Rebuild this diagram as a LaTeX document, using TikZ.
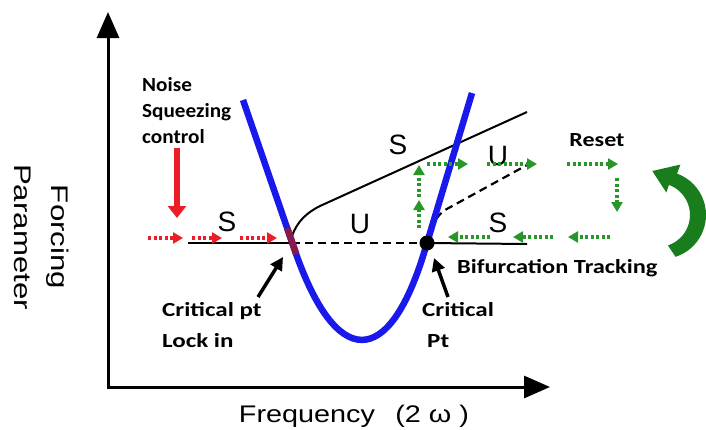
\documentclass[tikz,border=0pt]{standalone}
\usepackage{fontspec}
\setmainfont{Liberation Sans}
\newfontfamily\calibri{Carlito}
\usetikzlibrary{arrows.meta}
\definecolor{curveblue}{RGB}{25,25,235}
\definecolor{lockmaroon}{RGB}{135,25,75}
\definecolor{dotgreen}{RGB}{40,150,40}
\definecolor{arcgreen}{RGB}{25,125,30}
\definecolor{dotred}{RGB}{235,30,40}
\newcommand\wx[2]{\scalebox{#1}[1]{#2}}
\begin{document}
\begin{tikzpicture}[x=1pt,y=-1pt,
  boldlab/.style={font=\calibri\bfseries\fontsize{20}{26}\selectfont, inner sep=0pt},
  branchlab/.style={font=\fontsize{28}{30}\selectfont, inner sep=0pt},
  axislab/.style={font=\fontsize{24}{29}\selectfont, inner sep=0pt},
  greenarrow/.style={draw=dotgreen, line width=3.5pt, dash pattern=on 3pt off 2.5pt, -{Triangle[length=10pt,width=11pt]}},
  redarrow/.style={draw=dotred, line width=3.5pt, dash pattern=on 3pt off 2.5pt, -{Triangle[length=10pt,width=11pt]}},
  pointer/.style={draw=black, line width=3.5pt, -{Triangle[length=13pt,width=13pt]}},
  branch/.style={draw=black, line width=2pt},
  unstable/.style={draw=black, line width=2.2pt, dash pattern=on 8pt off 5pt},
]
\useasboundingbox (0,0) rectangle (706,429);

% axes
\coordinate (ytip) at (108,12);
\coordinate (origin) at (108,387);
\coordinate (xtip) at (550,387);
\draw[line width=3pt, line join=miter, {Triangle[length=26pt,width=22pt]}-{Triangle[length=26pt,width=22pt]}] (ytip) -- (origin) -- (xtip);

\node[axislab, anchor=base] (freq) at (354,422) {\wx{1.2}{Frequency\hspace{17pt}(2 ω )}};
\node[axislab, rotate=-90, align=center] (forcing) at (42,237) {\wx{1.3}{Forcing}\\[8pt]\wx{1.3}{Parameter}};

% branches
\coordinate (lock) at (292,243);
\coordinate (crit) at (427,243);
\coordinate (leftend) at (188,243);
\coordinate (rightend) at (527,244);
\coordinate (upperend) at (527,112);
\coordinate (lowerend) at (527,165);
\draw[branch] (leftend) -- (lock);
\draw[unstable] (lock) -- (crit);
\draw[branch] (crit) -- (rightend);
\draw[branch] (292,236) .. controls (297,222) and (306,213) .. (320,206) -- (upperend);
\draw[unstable] (crit) .. controls (430,228) and (436,216) .. (445,210) -- (lowerend);

% blue resonance curve
\coordinate (bl) at (243,100);
\coordinate (br) at (472,93);
\draw[curveblue, line width=6.5pt] (bl) -- (294.7,250) .. controls (335.8,369) and (388.7,370.7) .. (424.9,250) -- (br);
\draw[lockmaroon, line width=6.6pt] (287.2,228) -- (296.2,254);
\fill[black] (crit) circle (7.5);

% labels S / U
\node[branchlab] (s1) at (227,222) {S};
\node[branchlab] (u1) at (360,224) {U};
\node[branchlab] (s2) at (398,145) {S};
\node[branchlab] (u2) at (498,156) {U};
\node[branchlab] (s3) at (498,223) {S};

% noise squeezing
\node[boldlab, anchor=north west] (noise) at (142,73) {\wx{1.06}{\begin{tabular}{@{}l@{}}Noise\\Squeezing\\control\end{tabular}}};
\coordinate (rs) at (177,148);
\coordinate (re) at (177,218);
\draw[dotred, line width=6.5pt, -{Triangle[length=12pt,width=18pt]}] (rs) -- (re);
\draw[redarrow] (148,238) -- (183,238);
\draw[redarrow] (192,238) -- (222,238);
\draw[redarrow] (240,238) -- (277,238);

% green tracking arrows
\draw[greenarrow] (419,228) -- (419,200);
\draw[greenarrow] (419,197) -- (419,165);
\draw[greenarrow] (427,164) -- (468,164);
\draw[greenarrow] (487,164) -- (537,164);
\draw[greenarrow] (567,164) -- (618,164);
\draw[greenarrow] (617,178) -- (617,212);
\draw[greenarrow] (610,237) -- (568,237);
\draw[greenarrow] (553,237) -- (513,237);
\draw[greenarrow] (490,237) -- (448,237);

\node[boldlab] (reset) at (597,140) {\wx{1.2}{Reset}};
\node[boldlab, anchor=west] (bif) at (457,268) {\wx{1.22}{Bifurcation Tracking}};

% curved green arrow
\fill[arcgreen] (675.6,256.8) arc[start angle=72, end angle=-70, radius=44]
  -- (680.4,164.6) -- (652.3,171) -- (666.3,192.5) -- (668.9,184.9)
  arc[start angle=-70, end angle=72, radius=32] -- cycle;

% critical point labels
\node[boldlab, anchor=north west] (lockin) at (162,298) {\wx{1.25}{\begin{tabular}{@{}l@{}}Critical pt\\[5pt]Lock in\end{tabular}}};
\node[boldlab, anchor=north west] (critlab) at (422,298) {\wx{1.25}{\begin{tabular}{@{}l@{}}Critical\\[5pt]\hspace*{4pt}Pt\end{tabular}}};
\draw[pointer] (258,297) -- (283,257);
\draw[pointer] (448,297) -- (434,258);
\end{tikzpicture}
\end{document}
